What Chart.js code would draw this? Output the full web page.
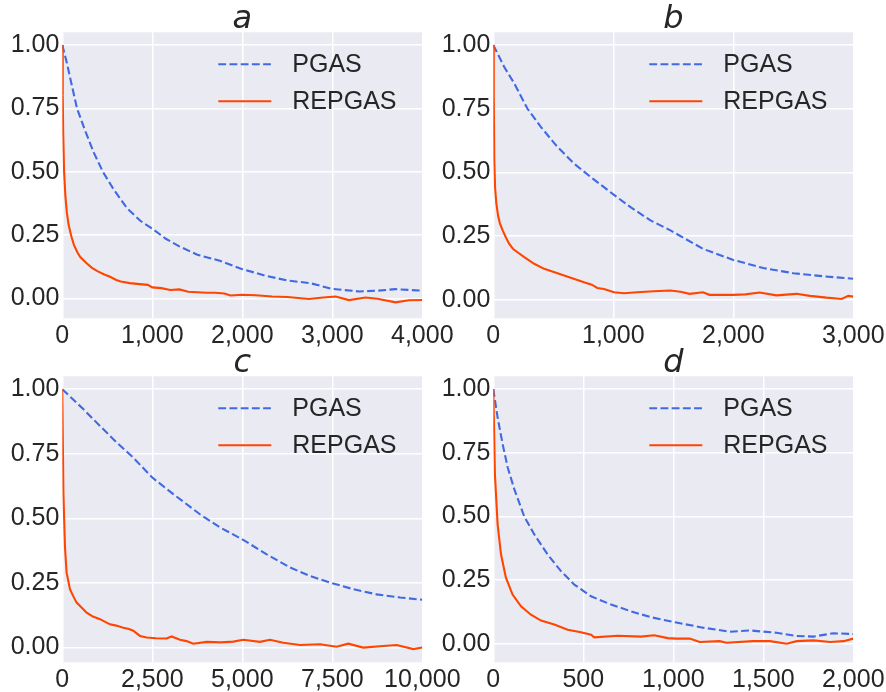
<!DOCTYPE html>
<html>
<head>
<meta charset="utf-8">
<title>PGAS vs REPGAS</title>
<script src="https://cdn.jsdelivr.net/npm/chart.js@4.4.1/dist/chart.umd.min.js"></script>
<style>
  html, body { margin: 0; padding: 0; background: #fff; }
  #fig { position: relative; width: 886px; height: 692px; overflow: hidden; }
  #fig canvas { position: absolute; }
</style>
</head>
<body>
<div id="fig">
  <canvas id="plotA" width="460" height="350" style="left:0px;top:0px"></canvas>
  <canvas id="plotB" width="455" height="350" style="left:431px;top:0px"></canvas>
  <canvas id="plotC" width="460" height="348" style="left:0px;top:344px"></canvas>
  <canvas id="plotD" width="455" height="348" style="left:431px;top:344px"></canvas>
</div>
<script>
'use strict';

var seriesNames = ['PGAS', 'REPGAS'];
var yTickValues = [0, 0.25, 0.5, 0.75, 1.0];

// panel a
var aTicks = [0, 1000, 2000, 3000, 4000];
var aPgasX = [0, 50, 100, 163, 250, 350, 450, 570, 720, 870, 1000, 1150, 1300, 1500, 1750, 2000, 2250, 2500, 2750, 3000, 3300, 3500, 3700, 4000];
var aPgasY = [1.0, 0.93, 0.85, 0.75, 0.665, 0.575, 0.50, 0.43, 0.355, 0.305, 0.275, 0.235, 0.205, 0.172, 0.148, 0.115, 0.09, 0.07, 0.06, 0.037, 0.027, 0.03, 0.036, 0.03];
var aRepX = [0, 5, 10, 20, 35, 50, 70, 100, 130, 170, 200, 270, 330, 390, 460, 530, 600, 650, 750, 830, 950, 1000, 1100, 1200, 1300, 1400, 1500, 1600, 1700, 1800, 1870, 2000, 2150, 2333, 2500, 2741, 2900, 3037, 3185, 3370, 3500, 3704, 3850, 4000];
var aRepY = [1.0, 0.80, 0.65, 0.50, 0.40, 0.34, 0.29, 0.245, 0.21, 0.18, 0.163, 0.138, 0.12, 0.107, 0.095, 0.085, 0.072, 0.066, 0.06, 0.057, 0.053, 0.043, 0.04, 0.033, 0.035, 0.026, 0.024, 0.022, 0.022, 0.019, 0.011, 0.014, 0.012, 0.007, 0.005, -0.003, 0.003, 0.007, -0.007, 0.003, -0.002, -0.016, -0.008, -0.007];

// panel b
var bTicks = [0, 1000, 2000, 3000];
var bPgasX = [0, 90, 175, 285, 396, 535, 673, 812, 1000, 1144, 1310, 1476, 1750, 2000, 2250, 2500, 2750, 3000];
var bPgasY = [1.0, 0.915, 0.849, 0.75, 0.679, 0.60, 0.535, 0.482, 0.414, 0.364, 0.312, 0.273, 0.20, 0.157, 0.125, 0.105, 0.093, 0.083];
var bRepX = [0, 4, 8, 15, 25, 40, 55, 78, 105, 133, 165, 202, 258, 341, 424, 535, 645, 756, 820, 867, 922, 1006, 1089, 1199, 1338, 1476, 1560, 1635, 1747, 1802, 2000, 2100, 2220, 2359, 2526, 2638, 2777, 2903, 2958, 3000];
var bRepY = [1.0, 0.80, 0.55, 0.44, 0.38, 0.33, 0.30, 0.273, 0.245, 0.22, 0.20, 0.187, 0.168, 0.142, 0.122, 0.105, 0.087, 0.069, 0.06, 0.047, 0.043, 0.030, 0.026, 0.030, 0.034, 0.037, 0.032, 0.024, 0.030, 0.020, 0.020, 0.022, 0.029, 0.018, 0.024, 0.016, 0.009, 0.004, 0.016, 0.013];

// panel c
var cTicks = [0, 2500, 5000, 7500, 10000];
var cPgasX = [0, 583, 1046, 1509, 1972, 2500, 3083, 3824, 4380, 5000, 5676, 6324, 6880, 7500, 8083, 8731, 9380, 10000];
var cPgasY = [1.0, 0.923, 0.858, 0.794, 0.735, 0.658, 0.594, 0.516, 0.465, 0.419, 0.361, 0.310, 0.277, 0.249, 0.226, 0.206, 0.194, 0.185];
var cRepX = [0, 30, 74, 120, 213, 300, 398, 500, 676, 850, 1046, 1324, 1500, 1694, 1850, 1972, 2157, 2343, 2600, 2898, 3037, 3269, 3450, 3639, 4009, 4400, 4750, 5028, 5491, 5769, 6139, 6602, 7157, 7620, 7944, 8361, 8917, 9287, 9750, 10000];
var cRepY = [1.0, 0.6, 0.39, 0.29, 0.226, 0.20, 0.174, 0.16, 0.135, 0.12, 0.11, 0.09, 0.085, 0.077, 0.072, 0.065, 0.045, 0.039, 0.036, 0.035, 0.043, 0.03, 0.025, 0.015, 0.022, 0.020, 0.023, 0.03, 0.022, 0.03, 0.019, 0.01, 0.013, 0.003, 0.015, 0.0, 0.006, 0.01, -0.006, 0.0];

// panel d
var dTicks = [0, 500, 1000, 1500, 2000];
var dPgasX = [0, 24, 52, 80, 117, 172, 228, 302, 376, 450, 543, 654, 765, 876, 1017, 1165, 1314, 1426, 1574, 1686, 1779, 1890, 2000];
var dPgasY = [1.0, 0.888, 0.783, 0.692, 0.606, 0.499, 0.429, 0.35, 0.285, 0.232, 0.186, 0.154, 0.127, 0.104, 0.083, 0.063, 0.047, 0.052, 0.043, 0.030, 0.028, 0.041, 0.038];
var dRepX = [0, 9, 24, 43, 70, 107, 154, 209, 265, 339, 413, 487, 543, 561, 691, 820, 894, 969, 1017, 1091, 1147, 1258, 1295, 1444, 1537, 1630, 1686, 1779, 1872, 1946, 2000];
var dRepY = [1.0, 0.665, 0.468, 0.35, 0.259, 0.193, 0.147, 0.114, 0.091, 0.075, 0.055, 0.045, 0.035, 0.025, 0.031, 0.028, 0.033, 0.022, 0.02, 0.02, 0.007, 0.01, 0.004, 0.01, 0.01, 0.0, 0.01, 0.013, 0.007, 0.01, 0.02];

var TEXT = '#262626';
var FONT = '"Liberation Sans", Arial, sans-serif';
var Y_AXIS_W = 62.3, AREA_TOP = 32.3, AREA_W = 360, AREA_H = 286;

function pairs(xs, ys) {
    return xs.map(function (x, i) { return { x: x, y: ys[i] }; });
}

// grey panel, italic title and in-axes legend (seaborn darkgrid look)
var panelDecor = {
    id: 'panelDecor',
    beforeDraw: function (chart) {
        var ca = chart.chartArea, ctx = chart.ctx;
        ctx.save();
        ctx.fillStyle = '#EAEAF2';
        ctx.fillRect(ca.left, ca.top, ca.right - ca.left, ca.bottom - ca.top);
        ctx.restore();
    },
    afterDraw: function (chart) {
        var ca = chart.chartArea, ctx = chart.ctx;
        ctx.save();
        ctx.fillStyle = TEXT;
        ctx.font = 'italic 32px "DejaVu Sans"';
        ctx.textAlign = 'center';
        ctx.textBaseline = 'alphabetic';
        ctx.fillText(chart.options.panelTitle, (ca.left + ca.right) / 2, ca.top - 4);

        chart.data.datasets.forEach(function (ds, i) {
            var y = ca.top + 32 + i * 37;
            var x0 = ca.left + 156;
            ctx.strokeStyle = ds.borderColor;
            ctx.lineWidth = ds.borderWidth;
            ctx.setLineDash(ds.borderDash || []);
            ctx.beginPath();
            ctx.moveTo(x0, y);
            ctx.lineTo(x0 + 53, y);
            ctx.stroke();
            ctx.setLineDash([]);
            ctx.font = '25px ' + FONT;
            ctx.textAlign = 'left';
            ctx.textBaseline = 'middle';
            ctx.fillText(ds.label, x0 + 74, y + 1);
        });
        ctx.restore();
    }
};

function makePanel(id, title, ticks, xMax, yMin, pgasX, pgasY, repX, repY) {
    var canvas = document.getElementById(id);
    var W = canvas.width, H = canvas.height;
    return new Chart(canvas, {
        type: 'line',
        data: {
            datasets: [
                {
                    label: seriesNames[0],
                    data: pairs(pgasX, pgasY),
                    borderColor: '#4169E1',
                    borderDash: [7.8, 3.4],
                    borderWidth: 2.1,
                    pointRadius: 0,
                    tension: 0,
                    order: 1
                },
                {
                    label: seriesNames[1],
                    data: pairs(repX, repY),
                    borderColor: '#FF4500',
                    borderWidth: 2.1,
                    pointRadius: 0,
                    tension: 0,
                    order: 0
                }
            ]
        },
        options: {
            panelTitle: title,
            responsive: false,
            animation: false,
            events: [],
            layout: {
                autoPadding: false,
                padding: { left: 0, top: AREA_TOP, right: W - Y_AXIS_W - AREA_W, bottom: 0 }
            },
            plugins: {
                legend: { display: false },
                tooltip: { enabled: false },
                title: { display: false }
            },
            scales: {
                x: {
                    type: 'linear',
                    min: 0,
                    max: xMax,
                    border: { display: false },
                    grid: { color: '#ffffff', lineWidth: 1.5, drawTicks: false },
                    ticks: {
                        autoSkip: false,
                        maxRotation: 0,
                        padding: 3,
                        color: TEXT,
                        font: { family: FONT, size: 25 },
                        callback: function (v) { return v.toLocaleString('en-US'); }
                    },
                    afterBuildTicks: function (s) {
                        s.ticks = ticks.map(function (v) { return { value: v }; });
                    },
                    afterFit: function (s) {
                        s.height = H - AREA_TOP - AREA_H;
                        s.paddingLeft = s.paddingRight = s.paddingTop = s.paddingBottom = 0;
                    }
                },
                y: {
                    min: yMin,
                    max: 1.05,
                    border: { display: false },
                    grid: { color: '#ffffff', lineWidth: 1.5, drawTicks: false },
                    ticks: {
                        padding: 3,
                        color: TEXT,
                        font: { family: FONT, size: 25 },
                        callback: function (v) { return v.toFixed(2); }
                    },
                    afterBuildTicks: function (s) {
                        s.ticks = yTickValues.map(function (v) { return { value: v }; });
                    },
                    afterFit: function (s) {
                        s.width = Y_AXIS_W;
                        s.paddingLeft = s.paddingRight = s.paddingTop = s.paddingBottom = 0;
                    }
                }
            }
        },
        plugins: [panelDecor]
    });
}

makePanel('plotA', 'a', aTicks, 4000, -0.079, aPgasX, aPgasY, aRepX, aRepY);
makePanel('plotB', 'b', bTicks, 3000, -0.072, bPgasX, bPgasY, bRepX, bRepY);
makePanel('plotC', 'c', cTicks, 10000, -0.057, cPgasX, cPgasY, cRepX, cRepY);
makePanel('plotD', 'd', dTicks, 2000, -0.073, dPgasX, dPgasY, dRepX, dRepY);
</script>
</body>
</html>
